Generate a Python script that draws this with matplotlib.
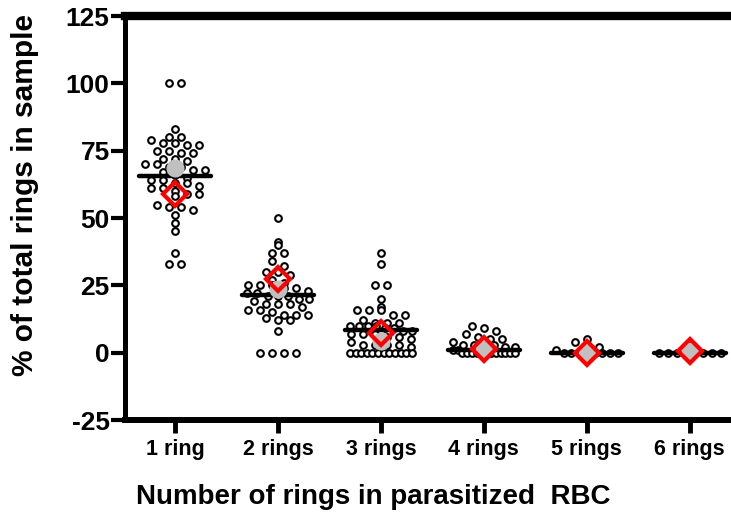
import matplotlib.pyplot as plt
import numpy as np

plt.rcParams['font.family'] = ['Liberation Sans', 'DejaVu Sans']
plt.rcParams['axes.unicode_minus'] = False

groups = ['1 ring', '2 rings', '3 rings', '4 rings', '5 rings', '6 rings']

# % of total rings per sample, one list per category
ring1 = [100, 100, 83, 80, 80, 79, 78, 78, 77, 77, 75, 75, 74, 74, 72, 72,
         71, 70, 70, 69, 69, 68, 68, 67, 66, 65, 64, 64, 63, 63, 62, 61, 61,
         60, 59, 59, 58, 55, 54, 54, 53, 51, 48, 45, 37, 33, 33]
ring2 = [50, 41, 40, 37, 37, 34, 32, 30, 30, 29, 27, 26, 25, 25, 25, 24, 24,
         23, 22, 22, 21, 21, 21, 20, 20, 19, 18, 18, 18, 17, 16, 16, 15, 14,
         14, 14, 13, 12, 12, 8, 0, 0, 0, 0]
ring3 = [37, 33, 25, 25, 20, 17, 16, 16, 16, 14, 14, 12, 11, 11, 11, 10, 10,
         10, 10, 9, 9, 8, 8, 7, 7, 7, 6, 6, 5, 4, 3, 3, 3, 3, 2,
         0, 0, 0, 0, 0, 0, 0, 0, 0, 0, 0, 0]
ring4 = [10, 9, 8, 7, 6, 5, 5, 4, 3, 3, 3, 3, 2, 2, 1, 1,
         0, 0, 0, 0, 0, 0, 0, 0, 0, 0, 0, 0]
ring5 = [5, 4, 3, 2, 1, 0, 0, 0, 0, 0, 0, 0, 0]
ring6 = [3, 0, 0, 0, 0, 0, 0, 0, 0]
samples = [ring1, ring2, ring3, ring4, ring5, ring6]

medians = [65.7, 21.4, 8.3, 1.0, 0.0, 0.0]
means = [68.4, 23.5, 4.5, 1.5, 0.0, 0.5]
pooled = [59.0, 27.5, 7.3, 1.5, -0.3, 0.5]

W, H = 731, 518
fig = plt.figure(figsize=(W / 100, H / 100), dpi=100)
ax = fig.add_axes([125 / W, 1 - 420 / H, 1 - 125 / W, (420 - 16) / H])
ax.set_xlim(0.515, 6.40)
ax.set_ylim(-25, 125)

# pixels per x unit, used to spread the points of a row sideways
px_x = 103.0


def column_scatter(vals, binw=3.0, gap=12.0, maxw=62.0):
    # points falling in the same y band are laid out side by side
    vals = np.sort(np.asarray(vals, dtype=float))[::-1]
    offs = np.zeros(len(vals))
    rows = np.floor(vals / binw + 0.5)
    for r in np.unique(rows):
        idx = np.where(rows == r)[0]
        n = len(idx)
        if n > 1:
            s = min(gap, maxw / (n - 1))
            offs[idx] = (np.arange(n) - (n - 1) / 2) * s
    return vals, offs / px_x


for i, vals in enumerate(samples):
    pos = i + 1
    ys, dx = column_scatter(vals)
    ax.plot(pos + dx, ys, 'o', ms=4.8, mfc='white', mec='black', mew=1.5,
            ls='none', zorder=2)
    ax.plot([pos - 0.35, pos + 0.35], [medians[i], medians[i]], color='black',
            lw=3.2, solid_capstyle='round', zorder=3)
    ax.plot(pos, means[i], 'o', ms=12, color='#c0c0c0', zorder=4)
    ax.plot(pos, pooled[i], 'D', ms=12, mfc='none', mec='#ff0000', mew=3,
            zorder=5)

ax.spines['right'].set_visible(False)
ax.spines['left'].set_linewidth(3.6)
ax.spines['bottom'].set_linewidth(4.3)
ax.spines['top'].set_linewidth(6)

ax.set_yticks(np.arange(-25, 126, 25))
ax.set_xticks(range(1, 7))
ax.set_xticklabels(groups)
ax.tick_params(axis='y', direction='out', length=10, width=3, pad=1,
               labelsize=19)
ax.tick_params(axis='x', direction='out', length=9, width=3.5, pad=5,
               labelsize=15.5)
for lab in ax.get_xticklabels() + ax.get_yticklabels():
    lab.set_fontweight('bold')

fig.text(25 / W, 1 - 195 / H, '% of total rings in sample', rotation=90,
         ha='center', va='center', fontsize=21.5, fontweight='bold')
fig.text(373 / W, 1 - 497 / H, 'Number of rings in parasitized  RBC',
         ha='center', va='center', fontsize=20, fontweight='bold')

fig.savefig('out.png', dpi=100)
